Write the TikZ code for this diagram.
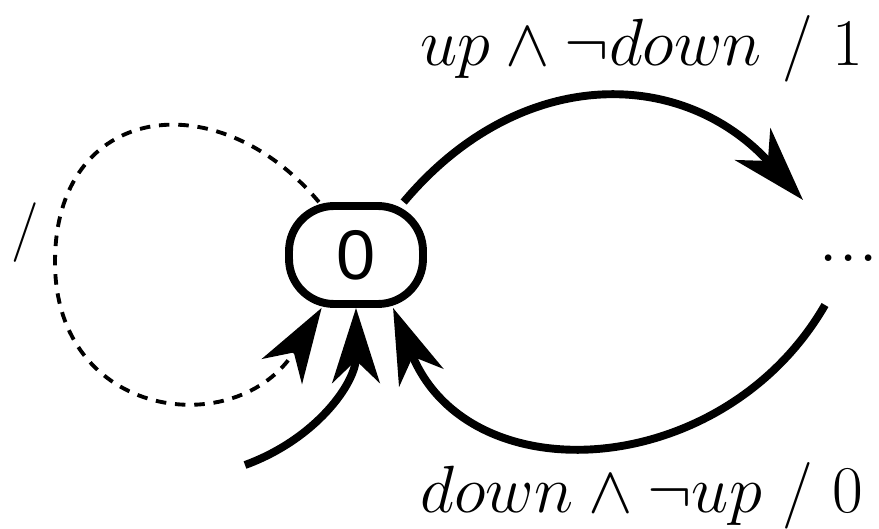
\RequirePackage{fix-cm}
\documentclass[tikz,border=0pt]{standalone}
\usepackage{fontspec}
\setsansfont{Liberation Sans}
\usetikzlibrary{arrows.meta}

\begin{document}
\begin{tikzpicture}[x=0.02cm,y=0.02cm,>={Stealth[length=1.5cm,width=0.95cm,inset=0.45cm]},
  state/.style={rectangle,draw,line width=4.5pt,rounded corners=0.9cm,minimum width=2.68cm,minimum height=1.96cm,inner sep=0pt,font=\sffamily\fontsize{40}{44}\selectfont},
  trans/.style={->,line width=4.5pt},
  idle/.style={->,line width=2.2pt,dash pattern=on 6pt off 5pt},
  lbl/.style={inner sep=0pt,font=\fontsize{38}{46}\selectfont}]
\useasboundingbox (0,0) rectangle (879,528);
\node[state] (n0) at (356,273) {0};
\node[lbl,anchor=base east,font=\fontsize{46}{50}\selectfont] (nxt) at (879,266) {...};
\coordinate (tr) at (803,328);
\coordinate (br) at (825,223);
\coordinate (init) at (245,63);
\coordinate (lpl) at (55,266);
\draw[trans] (n0.48) to[out=50,in=132,looseness=1.15] (tr);
\draw[trans] (br) to[out=240,in=-68,looseness=1.2] (n0.305);
\draw[trans] (init) to[out=20,in=270] (n0.270);
\draw[idle] (n0.125) to[out=130,in=90,looseness=1.5] (lpl) to[out=-90,in=238,looseness=1.5] (n0.237);
\node[lbl,anchor=base west] (lbup) at (420,462) {$up\wedge\neg down$ / 1};
\node[lbl,anchor=base west] (lbdown) at (420,16) {$down\wedge\neg up$ / 0};
\node[lbl,font=\fontsize{34}{40}\selectfont] (lbself) at (25,295) {/};
\end{tikzpicture}
\end{document}
